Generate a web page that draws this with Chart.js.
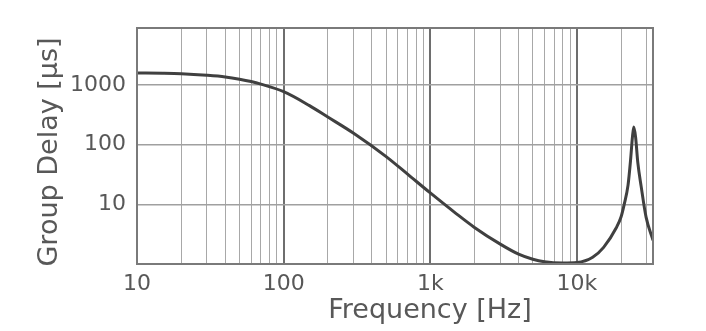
<!DOCTYPE html>
<html>
<head>
<meta charset="utf-8">
<script src="https://cdn.jsdelivr.net/npm/chart.js@4/dist/chart.umd.min.js"></script>
<style>
  html, body { margin: 0; padding: 0; background: #ffffff; }
  #wrap { width: 706px; height: 331px; }
</style>
</head>
<body>
<div id="wrap"><canvas id="c" width="706" height="331"></canvas></div>
<script>
// ---- data ----
const frequencyHz = [10, 15, 20, 30, 40, 50, 60, 70, 100, 150, 200, 300, 500, 700, 1000, 1500,
  2000, 3000, 4000, 5000, 6000, 8000, 10000, 12800, 15200, 18500, 20000,
  21000, 22300, 23200, 23900, 24400, 25100, 26000, 27400, 29600, 33000];
const groupDelayUs = [1590, 1570, 1540, 1450, 1360, 1250, 1140, 1030, 770, 450, 290, 155, 63, 32, 15.5, 7.0,
  4.1, 2.15, 1.46, 1.2, 1.09, 1.04, 1.06, 1.3, 1.9, 4.0, 6.2,
  10, 21, 55, 135, 197, 135, 50, 20, 6.1, 2.5];

const xTickValues = [10, 100, 1000, 10000];
const xTickLabels = ['10', '100', '1k', '10k'];
const xGridValues = [10, 20, 30, 40, 50, 60, 70, 80, 90,
  100, 200, 300, 400, 500, 600, 700, 800, 900,
  1000, 2000, 3000, 4000, 5000, 6000, 7000, 8000, 9000,
  10000, 20000, 30000];
const yTickValues = [10, 100, 1000];
const yTickLabels = ['10', '100', '1000'];

const xTitle = 'Frequency [Hz]';
const yTitle = 'Group Delay [µs]';

const points = frequencyHz.map((f, i) => ({ x: f, y: groupDelayUs[i] }));

const FONT = '"DejaVu Sans", Verdana, sans-serif';
const TEXT = '#585858';

function isDecade(v) {
  const l = Math.log10(v);
  return Math.abs(l - Math.round(l)) < 1e-9;
}

const frameAndTitles = {
  id: 'frameAndTitles',
  afterDraw(chart) {
    const { ctx, chartArea: a } = chart;
    ctx.save();
    ctx.strokeStyle = '#7a7a7a';
    ctx.lineWidth = 2;
    ctx.strokeRect(a.left, a.top, a.right - a.left, a.bottom - a.top);
    ctx.fillStyle = TEXT;
    ctx.font = '27px ' + FONT;
    ctx.textAlign = 'center';
    ctx.textBaseline = 'alphabetic';
    ctx.fillText(xTitle, 430, 318);
    ctx.translate(57, 152);
    ctx.rotate(-Math.PI / 2);
    ctx.fillText(yTitle, 0, 0);
    ctx.restore();
  }
};

new Chart(document.getElementById('c'), {
  type: 'line',
  data: {
    datasets: [{
      data: points,
      borderColor: '#404040',
      borderWidth: 3,
      pointRadius: 0,
      fill: false,
      cubicInterpolationMode: 'monotone'
    }]
  },
  options: {
    responsive: false,
    animation: false,
    devicePixelRatio: 1,
    layout: { padding: { left: 0, top: 28, right: 53, bottom: 0 } },
    plugins: { legend: { display: false }, tooltip: { enabled: false } },
    scales: {
      x: {
        type: 'logarithmic',
        min: 10,
        max: 33000,
        afterBuildTicks(scale) { scale.ticks = xGridValues.map(v => ({ value: v })); },
        afterFit(scale) { scale.height = 67; },
        border: { display: false },
        grid: {
          drawTicks: false,
          color: ctx => (ctx.tick && isDecade(ctx.tick.value)) ? '#6e6e6e' : '#a8a8a8',
          lineWidth: ctx => (ctx.tick && isDecade(ctx.tick.value)) ? 2 : 1
        },
        ticks: {
          autoSkip: false,
          maxRotation: 0,
          padding: 7,
          color: TEXT,
          font: { family: FONT, size: 22 },
          callback(value) {
            const i = xTickValues.indexOf(value);
            return i >= 0 ? xTickLabels[i] : '';
          }
        }
      },
      y: {
        type: 'logarithmic',
        min: 1,
        max: 9000,
        afterBuildTicks(scale) { scale.ticks = yTickValues.map(v => ({ value: v })); },
        afterFit(scale) { scale.width = 137; },
        border: { display: false },
        grid: { drawTicks: false, color: '#a0a0a0', lineWidth: 1.5 },
        ticks: {
          padding: 11,
          color: TEXT,
          font: { family: FONT, size: 22 },
          callback(value) {
            const i = yTickValues.indexOf(value);
            return i >= 0 ? yTickLabels[i] : '';
          }
        }
      }
    }
  },
  plugins: [frameAndTitles]
});
</script>
</body>
</html>
